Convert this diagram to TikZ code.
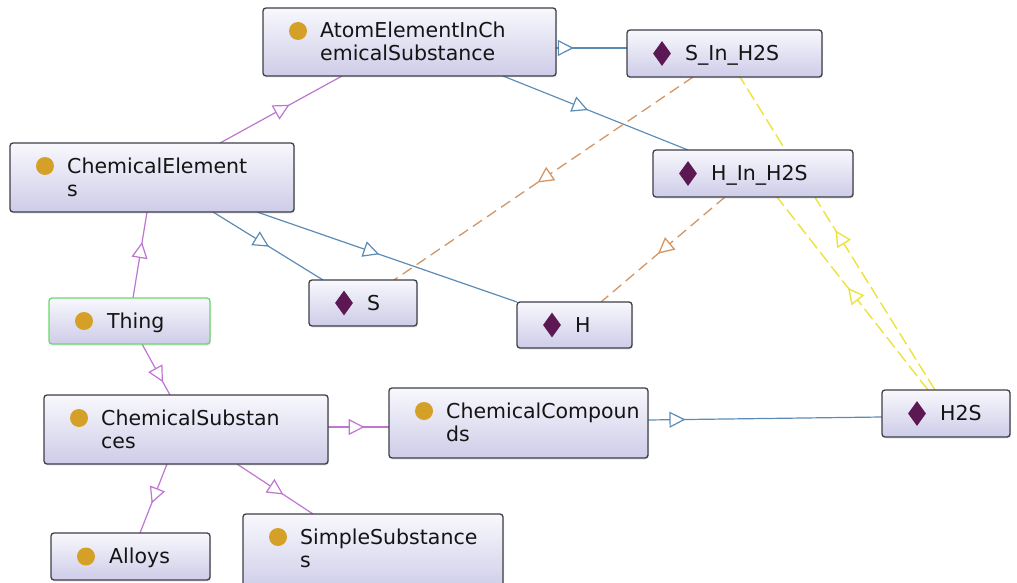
\documentclass[tikz,border=0pt]{standalone}
\usepackage{fontspec}
\setmainfont{DejaVu Sans}
\usetikzlibrary{arrows.meta,calc,decorations.markings,shadows,shapes.geometric}

\definecolor{boxline}{RGB}{62,62,72}
\definecolor{boxtop}{RGB}{248,248,253}
\definecolor{boxbot}{RGB}{206,204,232}
\definecolor{thingline}{RGB}{110,215,110}
\definecolor{dotcol}{RGB}{212,160,40}
\definecolor{indcol}{RGB}{92,24,82}
\definecolor{subcls}{RGB}{190,118,208}
\definecolor{relcol}{RGB}{92,140,182}
\definecolor{instcol}{RGB}{212,150,100}
\definecolor{samecol}{RGB}{238,226,60}

\pgfdeclarelayer{edges}
\pgfsetlayers{edges,main}

\tikzset{
  ontobox/.style={draw=boxline, line width=1.3pt, rounded corners=3pt, outer sep=0pt,
    top color=boxtop, bottom color=boxbot,
    drop shadow={shadow xshift=1pt, shadow yshift=-1.5pt, opacity=0.18}},
  greenbox/.style={draw=thingline},
  ontotext/.style={inner sep=0pt, anchor=base west, text=black!92,
    font=\fontsize{20.5}{23}\selectfont},
  classdot/.style={circle, fill=dotcol, inner sep=0pt, minimum size=18pt},
  indivmark/.style={diamond, fill=indcol, inner sep=0pt, minimum width=18pt, minimum height=25pt},
  isa/.style={draw=subcls, line width=1.2pt},
  rel/.style={draw=relcol, line width=1.2pt},
  inst/.style={draw=instcol, line width=1.3pt, dash pattern=on 11pt off 6pt},
  same/.style={draw=samecol, line width=1.4pt, dash pattern=on 13pt off 5pt},
  midtip/.style={postaction={decorate, decoration={markings,
    mark=at position #1 with {\arrow{Triangle[fill=white,length=16pt,width=16pt]}}}}},
}

% class box with a two-line name
\newcommand\classtwo[7]{%
  \node[ontobox, anchor=north west, minimum width={(#4-#2)*1pt}, minimum height={(#5-#3)*1pt}] (#1) at (#2,#3) {};
  \node[classdot] (#1-icon) at ($(#1.north west)+(35,23)$) {};
  \node[ontotext] (#1-a) at ($(#1.north west)+(57,30)$) {#6};
  \node[ontotext] (#1-b) at ($(#1.north west)+(57,53)$) {#7};
}
% class box with a one-line name
\newcommand\classone[7][]{%
  \node[ontobox, #1, anchor=north west, minimum width={(#5-#3)*1pt}, minimum height={(#6-#4)*1pt}] (#2) at (#3,#4) {};
  \node[classdot] (#2-icon) at ($(#2.west)+(35,0)$) {};
  \node[ontotext] (#2-a) at ($(#2.west)+(58,7)$) {#7};
}
% individual box
\newcommand\indiv[6]{%
  \node[ontobox, anchor=north west, minimum width={(#4-#2)*1pt}, minimum height={(#5-#3)*1pt}] (#1) at (#2,#3) {};
  \node[indivmark] (#1-icon) at ($(#1.west)+(35,0)$) {};
  \node[ontotext] (#1-a) at ($(#1.west)+(58,7)$) {#6};
}

\begin{document}
\begin{tikzpicture}[x=1pt, y=-1pt]
\useasboundingbox (0,0) rectangle (1017,583);

% classes
\classtwo{atom}{263}{8}{556}{76}{AtomElementInCh}{emicalSubstance}
\classtwo{chel}{10}{143}{294}{212}{ChemicalElement}{s}
\classone[greenbox]{thing}{49}{298}{210}{344}{Thing}
\classtwo{chsub}{44}{395}{328}{464}{ChemicalSubstan}{ces}
\classtwo{chcomp}{389}{388}{648}{458}{ChemicalCompoun}{ds}
\classone{alloys}{51}{533}{210}{580}{Alloys}
\classtwo{simple}{243}{514}{503}{592}{SimpleSubstance}{s}

% individuals
\indiv{sin}{627}{30}{822}{77}{S\_In\_H2S}
\indiv{hin}{653}{150}{853}{197}{H\_In\_H2S}
\indiv{s}{309}{280}{417}{326}{S}
\indiv{h}{517}{302}{632}{348}{H}
\indiv{h2s}{882}{390}{1010}{437}{H2S}

\begin{pgfonlayer}{edges}
  \fill[white] (0,0) rectangle (1017,583);
  % subclass links
  \draw[isa, midtip=0.57] ($(chel.north west)+(210,0)$) -- ($(atom.south west)+(79,0)$);
  \draw[isa, midtip=0.65] ($(thing.north west)+(84,0)$) -- ($(chel.south west)+(137,0)$);
  \draw[isa, midtip=0.75] ($(thing.south west)+(93,0)$) -- ($(chsub.north west)+(126,0)$);
  \draw[isa, midtip=0.57] ($(chsub.south west)+(123,0)$) -- ($(alloys.north west)+(89,0)$);
  \draw[isa, midtip=0.61] ($(chsub.south west)+(193,0)$) -- ($(simple.north west)+(70,0)$);
  \draw[isa, midtip=0.6] ($(chsub.north east)+(0,32)$) -- ($(chcomp.north west)+(0,39)$);
  % class membership
  \draw[rel, midtip=0.16] ($(chcomp.north east)+(0,32)$) -- ($(h2s.north west)+(0,27)$);
  \draw[rel, midtip=0.51] ($(chel.south west)+(203,0)$) -- ($(s.north west)+(14,0)$);
  \draw[rel, midtip=0.47] ($(chel.south west)+(247,0)$) -- (h.north west);
  \draw[rel, midtip=0.46] ($(atom.south west)+(240,0)$) -- ($(hin.north west)+(35,0)$);
  \draw[rel, midtip=0.25] ($(atom.north east)+(0,40)$) -- ($(sin.north west)+(0,18)$);
  % object properties
  \draw[inst, midtip=0.52] ($(sin.south west)+(66,0)$) -- ($(s.north west)+(85,0)$);
  \draw[inst, midtip=0.54] ($(hin.south west)+(72,0)$) -- ($(h.north west)+(84,0)$);
  \draw[same, midtip=0.51] ($(h2s.north west)+(53,0)$) -- ($(sin.south west)+(113,0)$);
  \draw[same, midtip=0.53] ($(h2s.north west)+(46,0)$) -- ($(hin.south west)+(124,0)$);
\end{pgfonlayer}
\end{tikzpicture}
\end{document}
